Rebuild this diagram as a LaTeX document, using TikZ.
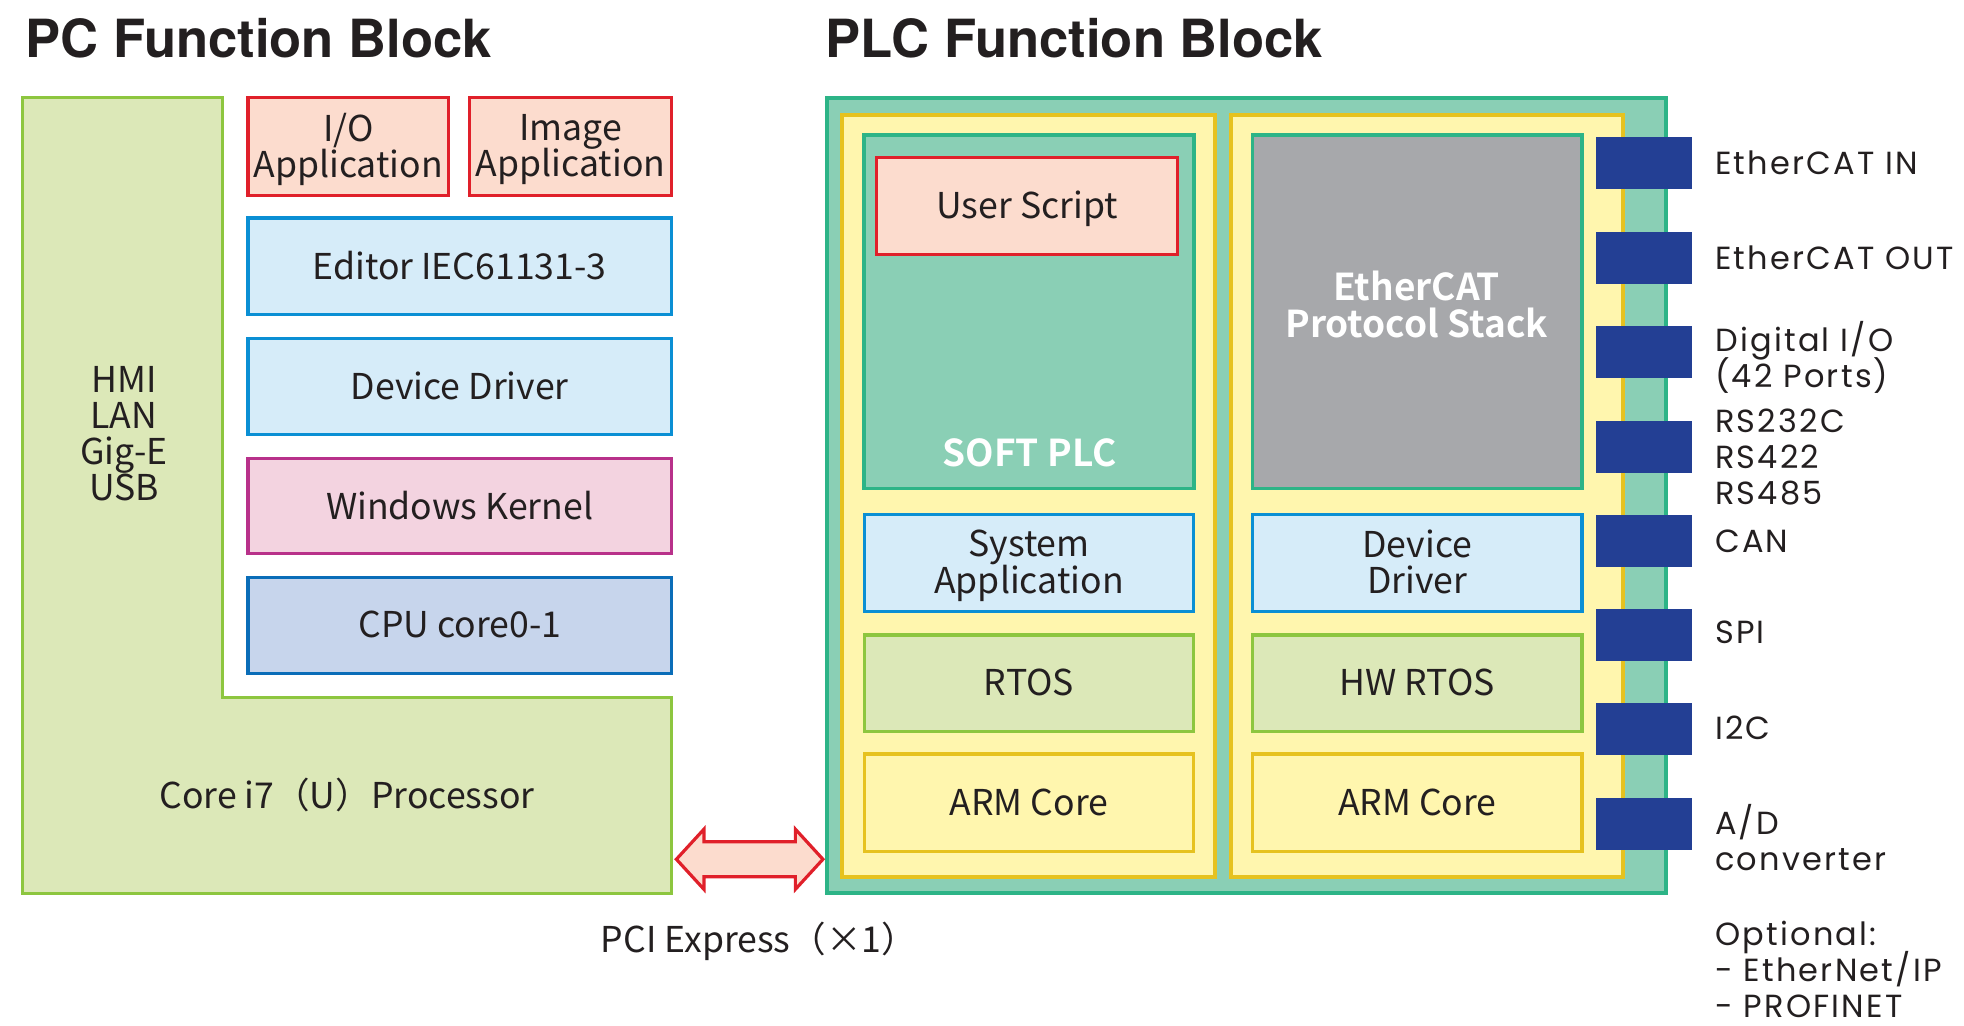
\documentclass[tikz,border=0pt]{standalone}
\usepackage{fontspec}
\setmainfont{Noto Sans CJK JP}[BoldFont={Noto Sans CJK JP Bold}]
\newfontfamily\titlefont{TeX Gyre Heros}
\newfontfamily\geofont{Poppins}[LetterSpace=7]
\usetikzlibrary{fit}
\newcommand\mystrut{\rule[-0.22em]{0pt}{0.9em}}
\newcommand\tightls{\lineskiplimit=-20pt\relax}
\definecolor{txt}{HTML}{231F20}
\definecolor{grnF}{HTML}{DCE8B8}
\definecolor{grnB}{HTML}{8DC63F}
\definecolor{redF}{HTML}{FCDCCE}
\definecolor{redB}{HTML}{E0202A}
\definecolor{bluF}{HTML}{D6ECF9}
\definecolor{bluB}{HTML}{0A8FD4}
\definecolor{pinkF}{HTML}{F3D3E0}
\definecolor{pinkB}{HTML}{B8318A}
\definecolor{cpuF}{HTML}{C7D5EC}
\definecolor{cpuB}{HTML}{0A6DB8}
\definecolor{tealF}{HTML}{8ACFB5}
\definecolor{tealB}{HTML}{2DB487}
\definecolor{yelF}{HTML}{FFF6AE}
\definecolor{yelB}{HTML}{E6C21F}
\definecolor{grayF}{HTML}{A7A8AB}
\definecolor{portC}{HTML}{233F94}
\tikzset{
  boxfont/.style={font=\fontsize{17.8}{18.1}\selectfont\tightls},
  lbl/.style={inner sep=0pt, align=center, text=txt, boxfont, yshift=-1.4pt,
    execute at begin node=\mystrut, execute at end node=\mystrut},
  box/.style={draw, line width=1.6pt, inner sep=0pt},
  redbox/.style={box, draw=redB, fill=redF},
  bluebox/.style={box, draw=bluB, fill=bluF},
  pinkbox/.style={box, draw=pinkB, fill=pinkF},
  cpubox/.style={box, draw=cpuB, fill=cpuF},
  grnbox/.style={box, draw=grnB, fill=grnF},
  yelbox/.style={box, draw=yelB, fill=yelF},
  tealbox/.style={box, draw=tealB, fill=tealF},
  graybox/.style={box, draw=tealB, fill=grayF},
  port/.style={fill=portC, inner sep=0pt},
  portlabel/.style={anchor=west, inner sep=0pt, align=left, text=txt, yshift=-1.6pt,
    font=\geofont\fontsize{16}{17.9}\selectfont\tightls,
    execute at begin node=\mystrut, execute at end node=\mystrut},
  plain/.style={lbl},
  whitelbl/.style={inner sep=0pt, align=center, text=white, yshift=-1.4pt,
    font=\fontsize{18.5}{18.2}\selectfont\bfseries\tightls,
    execute at begin node=\mystrut, execute at end node=\mystrut},
  title/.style={anchor=south west, inner sep=0pt, text=txt, font=\titlefont\bfseries\fontsize{26.3}{30}\selectfont},
}
\begin{document}
\begin{tikzpicture}[x=0.6263pt,y=-0.6263pt]
\useasboundingbox (0,0) rectangle (1568,819);
% titles
\node[title] (pct) at (20,47) {PC Function Block};
\node[title] (plct) at (659,47) {PLC Function Block};
% PC L-shape
\draw[line width=1.5pt, draw=grnB, fill=grnF] (18,78) -- (178,78) -- (178,557) -- (536,557) -- (536,713) -- (18,713) -- cycle;
\node[plain] (hmi) at (99,347) {HMI\\LAN\\Gig-E\\USB};
\node[plain] (core) at (277,634) {Core i7（U）Processor};
% PC boxes
\node[redbox, fit={(198,78) (358,156)}, label={[lbl]center:{I/O\\Application}}] (ioapp) {};
\node[redbox, fit={(375,78) (536,156)}, label={[lbl]center:{Image\\Application}}] (imgapp) {};
\node[bluebox, fit={(198,174) (536,251)}, label={[lbl]center:{Editor IEC61131-3}}] (editor) {};
\node[bluebox, fit={(198,270) (536,347)}, label={[lbl]center:{Device Driver}}] (devdrv) {};
\node[pinkbox, fit={(198,366) (536,442)}, label={[lbl]center:{Windows Kernel}}] (winkern) {};
\node[cpubox, fit={(198,461) (536,538)}, label={[lbl]center:{CPU core0-1}}] (cpu) {};
% PLC outer
\node[draw=tealB, fill=tealF, line width=2pt, inner sep=0pt, fit={(660,78) (1330,713)}] (plc) {};
\node[yelbox, line width=2pt, fit={(672,92) (970,700)}] (yl) {};
\node[yelbox, line width=2pt, fit={(983,92) (1296,700)}] (yr) {};
% left column
\node[tealbox, line width=1.8pt, fit={(690,108) (953,390)}] (softplc) {};
\node[whitelbl] (softlbl) at (822,362) {SOFT PLC};
\node[redbox, fit={(700,126) (940,203)}, label={[lbl]center:{User Script}}] (uscript) {};
\node[bluebox, fit={(690,411) (953,488)}, label={[lbl]center:{System\\Application}}] (sysapp) {};
\node[grnbox, fit={(690,507) (953,584)}, label={[lbl]center:{RTOS}}] (rtos) {};
\node[yelbox, fit={(690,602) (953,680)}, label={[lbl]center:{ARM Core}}] (arm1) {};
% right column
\node[graybox, line width=1.8pt, fit={(1000,108) (1263,390)}] (stack) {};
\node[whitelbl] (stacklbl) at (1131,244) {EtherCAT\\Protocol Stack};
\node[bluebox, fit={(1000,411) (1263,488)}, label={[lbl]center:{Device\\Driver}}] (devdrv2) {};
\node[grnbox, fit={(1000,507) (1263,584)}, label={[lbl]center:{HW RTOS}}] (hwrtos) {};
\node[yelbox, fit={(1000,602) (1263,680)}, label={[lbl]center:{ARM Core}}] (arm2) {};
% ports
\foreach \yy/\nm in {130/p1,206/p2,281/p3,357/p4,432/p5,507/p6,582/p7,658/p8}{
  \node[port, fit={(1274,\yy-21) (1351,\yy+21)}] (\nm) {};
}
\node[portlabel] (l1) at (1369,130) {EtherCAT IN};
\node[portlabel] (l2) at (1369,206) {EtherCAT OUT};
\node[portlabel] (l3) at (1369,283) {Digital I/O\\(42 Ports)};
\node[portlabel] (l4) at (1369,365) {RS232C\\RS422\\RS485};
\node[portlabel] (l5) at (1369,432) {CAN};
\node[portlabel] (l6) at (1369,505) {SPI};
\node[portlabel] (l7) at (1369,581) {I2C};
\node[portlabel] (l8) at (1369,669) {A/D\\converter};
\node[portlabel] (l9) at (1369,774) {Optional:\\- EtherNet/IP\\- PROFINET};
% PCI express double arrow
\draw[line width=1.6pt, draw=redB, fill=redF, line join=miter]
  (540,686) -- (562,662) -- (562,672) -- (635,672) -- (635,662) -- (657,686)
  -- (635,710) -- (635,700) -- (562,700) -- (562,710) -- cycle;
\node[plain] (pci) at (606,749) {PCI Express（×1）};
\end{tikzpicture}
\end{document}
